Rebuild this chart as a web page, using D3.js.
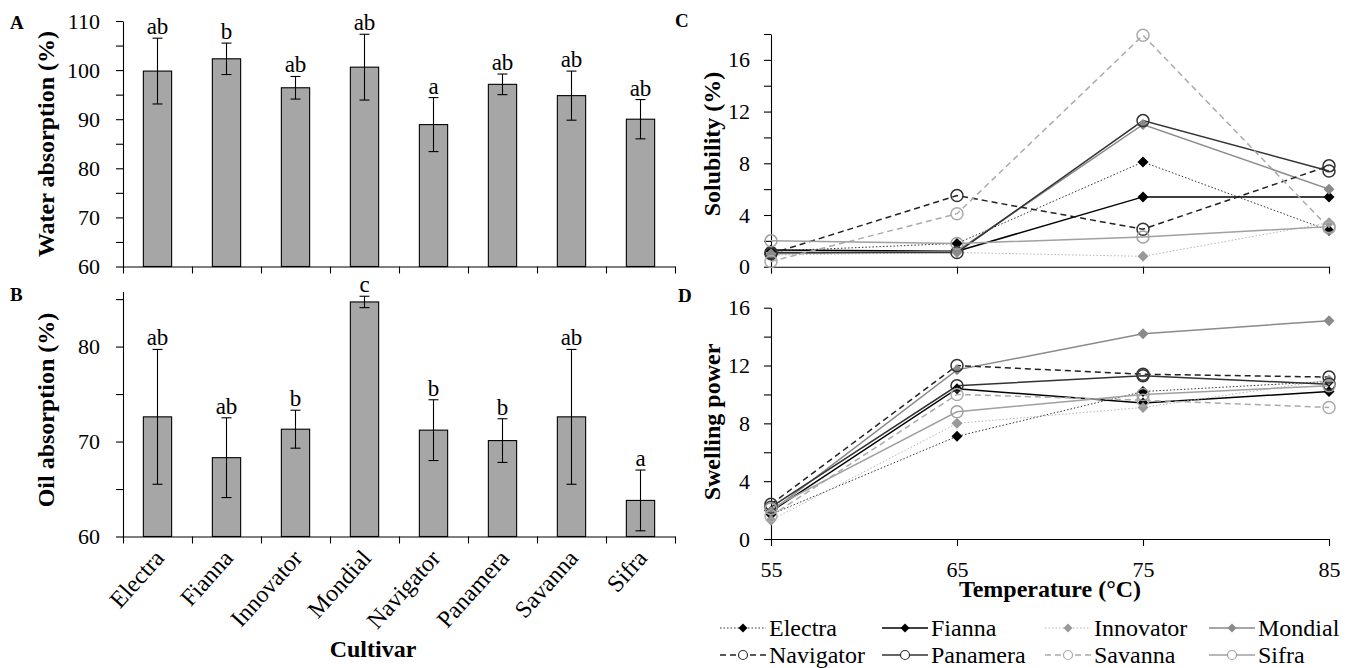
<!DOCTYPE html>
<html>
<head>
<meta charset="utf-8">
<script src="https://cdn.jsdelivr.net/npm/d3@7"></script>
<style>
  body { margin: 0; background: #fff; }
  svg { display: block; font-family: "Times New Roman", "Liberation Serif", serif; }
</style>
</head>
<body>
<div id="chart"></div>
<script>
// data
var cultivars = ["Electra", "Fianna", "Innovator", "Mondial", "Navigator", "Panamera", "Savanna", "Sifra"];

var waterAbs = [99.8, 102.3, 96.4, 100.6, 88.9, 97.1, 94.8, 90.0];
var waterErr = [6.7, 3.2, 2.3, 6.7, 5.5, 2.1, 5.0, 4.0];
var waterLetters = ["ab", "b", "ab", "ab", "a", "ab", "ab", "ab"];

var oilAbs = [72.6, 68.3, 71.3, 84.7, 71.2, 70.1, 72.6, 63.8];
var oilErr = [7.1, 4.2, 2.0, 0.6, 3.2, 2.3, 7.1, 3.2];
var oilLetters = ["ab", "ab", "b", "c", "b", "b", "ab", "a"];

var temps = [55, 65, 75, 85];

// one row per cultivar, same order as cultivars
var solubility = [
  [1.2, 1.8, 8.1, 2.8],
  [1.3, 1.2, 5.4, 5.4],
  [0.9, 1.1, 0.8, 3.4],
  [1.0, 1.2, 11.0, 6.0],
  [1.0, 5.5, 2.9, 7.8],
  [1.1, 1.1, 11.3, 7.4],
  [0.4, 4.1, 17.9, 3.0],
  [2.0, 1.8, 2.3, 3.1]
];

var swelling = [
  [1.7, 7.1, 10.2, 10.9],
  [1.9, 10.4, 9.4, 10.2],
  [1.3, 8.0, 9.1, 11.0],
  [1.9, 11.7, 14.2, 15.1],
  [2.4, 12.0, 11.4, 11.2],
  [2.2, 10.6, 11.3, 10.7],
  [1.6, 10.0, 9.6, 9.1],
  [2.1, 8.8, 10.0, 10.6]
];

// line look for each cultivar
var styles = [
  { stroke: "#333", width: 1, dash: "1.5,2", marker: "diamond", fill: "#000" },
  { stroke: "#000", width: 1.5, dash: null, marker: "diamond", fill: "#000" },
  { stroke: "#b5b5b5", width: 1, dash: "1.5,2", marker: "diamond", fill: "#999" },
  { stroke: "#8a8a8a", width: 1.5, dash: null, marker: "diamond", fill: "#8a8a8a" },
  { stroke: "#222", width: 1.5, dash: "6,4", marker: "circle", fill: "#333" },
  { stroke: "#333", width: 1.5, dash: null, marker: "circle", fill: "#333" },
  { stroke: "#aaa", width: 1.5, dash: "6,4", marker: "circle", fill: "#aaa" },
  { stroke: "#a0a0a0", width: 1.5, dash: null, marker: "circle", fill: "#a0a0a0" }
];

var W = 1359, H = 668;
var svg = d3.select("#chart").append("svg")
  .attr("width", W)
  .attr("height", H);

var barFill = "#a6a6a6";

function styleAxis(g, size) {
  g.attr("font-family", null).attr("font-size", null);
  g.selectAll("path.domain").attr("stroke", "#000").attr("stroke-width", 1.1);
  g.selectAll(".tick line").attr("stroke", "#000").attr("stroke-width", 1.1);
  g.selectAll(".tick text")
    .style("font-family", "'Times New Roman', 'Liberation Serif', serif")
    .style("font-size", size + "px")
    .attr("fill", "#000");
}

function diamond(s) {
  return "M0," + (-s) + "L" + s + ",0L0," + s + "L" + (-s) + ",0Z";
}

// ---------------- bar panels (A, B) ----------------
function barPanel(opt) {
  var x = d3.scaleBand().domain(cultivars).range([123, 675]);
  var xEdge = d3.scaleLinear().domain([0, cultivars.length]).range([123, 675]);
  var y = d3.scaleLinear().domain(opt.domain).range([opt.bottom, opt.top]);
  var bw = x.bandwidth() * 0.41;

  // y axis
  var gy = svg.append("g")
    .attr("transform", "translate(123,0)")
    .call(d3.axisLeft(y)
      .tickValues(opt.ticks)
      .tickSize(7).tickSizeOuter(0).tickPadding(16)
      .tickFormat(function(d) { return d % 10 === 0 ? d : ""; }));
  styleAxis(gy, 22);

  // bars
  svg.append("g").selectAll("rect")
    .data(opt.values)
    .enter().append("rect")
    .attr("x", function(d, i) { return x(cultivars[i]) + (x.bandwidth() - bw) / 2; })
    .attr("y", function(d) { return y(d); })
    .attr("width", bw)
    .attr("height", function(d) { return opt.bottom - y(d); })
    .attr("fill", barFill)
    .attr("stroke", "#000")
    .attr("stroke-width", 1.1);

  // error bars
  var eb = svg.append("g").selectAll("g")
    .data(opt.values)
    .enter().append("g")
    .attr("stroke", "#000")
    .attr("stroke-width", 1.1);
  eb.append("line")
    .attr("x1", function(d, i) { return x(cultivars[i]) + x.bandwidth() / 2; })
    .attr("x2", function(d, i) { return x(cultivars[i]) + x.bandwidth() / 2; })
    .attr("y1", function(d, i) { return y(d + opt.err[i]); })
    .attr("y2", function(d, i) { return y(d - opt.err[i]); });
  [1, -1].forEach(function(sign) {
    eb.append("line")
      .attr("x1", function(d, i) { return x(cultivars[i]) + x.bandwidth() / 2 - 5; })
      .attr("x2", function(d, i) { return x(cultivars[i]) + x.bandwidth() / 2 + 5; })
      .attr("y1", function(d, i) { return y(d + sign * opt.err[i]); })
      .attr("y2", function(d, i) { return y(d + sign * opt.err[i]); });
  });

  // letters
  svg.append("g").selectAll("text")
    .data(opt.values)
    .enter().append("text")
    .attr("x", function(d, i) { return x(cultivars[i]) + x.bandwidth() / 2; })
    .attr("y", function(d, i) { return y(d + opt.err[i]) - 4; })
    .attr("text-anchor", "middle")
    .style("font-size", "23px")
    .text(function(d, i) { return opt.letters[i]; });

  // x axis with ticks on category edges
  var gx = svg.append("g")
    .attr("transform", "translate(0," + opt.bottom + ")")
    .call(d3.axisBottom(xEdge)
      .tickValues(d3.range(0, cultivars.length + 1))
      .tickSize(7).tickSizeOuter(0)
      .tickFormat(""));
  styleAxis(gx, 22);

  // y title
  svg.append("text")
    .attr("transform", "translate(54," + opt.titleY + ") rotate(-90)")
    .attr("text-anchor", "middle")
    .style("font-size", "24px")
    .style("font-weight", "bold")
    .text(opt.title);

  // panel letter
  svg.append("text")
    .attr("x", 10).attr("y", opt.letterY)
    .style("font-size", "19px").style("font-weight", "bold")
    .text(opt.letter);

  return x;
}

barPanel({
  domain: [60, 110], top: 21, bottom: 266.5,
  ticks: d3.range(60, 111, 5),
  values: waterAbs, err: waterErr, letters: waterLetters,
  title: "Water absorption (%)", titleY: 144, letter: "A", letterY: 29
});

var xB = barPanel({
  domain: [60, 85.8], top: 291.5, bottom: 536.5,
  ticks: d3.range(60, 86, 5),
  values: oilAbs, err: oilErr, letters: oilLetters,
  title: "Oil absorption (%)", titleY: 410, letter: "B", letterY: 301
});

// rotated cultivar names
svg.append("g").selectAll("text")
  .data(cultivars)
  .enter().append("text")
  .attr("transform", function(d) {
    return "translate(" + (xB(d) + xB.bandwidth() / 2 + 8) + ",559) rotate(-48)";
  })
  .attr("text-anchor", "end")
  .style("font-size", "24px")
  .text(function(d) { return d; });

svg.append("text")
  .attr("x", 373).attr("y", 657)
  .attr("text-anchor", "middle")
  .style("font-size", "24px").style("font-weight", "bold")
  .text("Cultivar");

// ---------------- line panels (C, D) ----------------
var xT = d3.scaleLinear().domain([55, 85]).range([771, 1329]);

function linePanel(opt) {
  var y = d3.scaleLinear().domain(opt.domain).range([opt.bottom, opt.top]);

  var gy = svg.append("g")
    .attr("transform", "translate(771,0)")
    .call(d3.axisLeft(y)
      .tickValues(d3.range(opt.domain[0], opt.domain[1] + 1, 2))
      .tickSize(7).tickSizeOuter(0).tickPadding(14)
      .tickFormat(function(d) { return d % 4 === 0 ? d : ""; }));
  styleAxis(gy, 22);

  var gx = svg.append("g")
    .attr("transform", "translate(0," + opt.bottom + ")")
    .call(d3.axisBottom(xT)
      .tickValues(temps)
      .tickSize(7).tickSizeOuter(0).tickPadding(15)
      .tickFormat(opt.xLabels ? d3.format("d") : ""));
  styleAxis(gx, 22);

  var line = d3.line()
    .x(function(d, i) { return xT(temps[i]); })
    .y(function(d) { return y(d); });

  opt.series.forEach(function(vals, k) {
    var st = styles[k];
    svg.append("path")
      .datum(vals)
      .attr("d", line)
      .attr("fill", "none")
      .attr("stroke", st.stroke)
      .attr("stroke-width", st.width)
      .attr("stroke-dasharray", st.dash);
  });

  opt.series.forEach(function(vals, k) {
    var st = styles[k];
    var g = svg.append("g");
    if (st.marker === "diamond") {
      g.selectAll("path").data(vals).enter().append("path")
        .attr("d", diamond(5.5))
        .attr("transform", function(d, i) { return "translate(" + xT(temps[i]) + "," + y(d) + ")"; })
        .attr("fill", st.fill);
    } else {
      g.selectAll("circle").data(vals).enter().append("circle")
        .attr("cx", function(d, i) { return xT(temps[i]); })
        .attr("cy", function(d) { return y(d); })
        .attr("r", 6)
        .attr("fill", "none")
        .attr("stroke", st.fill)
        .attr("stroke-width", 1.5);
    }
  });

  svg.append("text")
    .attr("transform", "translate(720," + opt.titleY + ") rotate(-90)")
    .attr("text-anchor", "middle")
    .style("font-size", "24px").style("font-weight", "bold")
    .text(opt.title);

  svg.append("text")
    .attr("x", opt.letterX).attr("y", opt.letterY)
    .style("font-size", "19px").style("font-weight", "bold")
    .text(opt.letter);
}

linePanel({
  domain: [0, 18], top: 34, bottom: 266.7, series: solubility, xLabels: false,
  title: "Solubility (%)", titleY: 144, letter: "C", letterX: 675, letterY: 27
});

linePanel({
  domain: [0, 16], top: 307.7, bottom: 539, series: swelling, xLabels: true,
  title: "Swelling power", titleY: 422, letter: "D", letterX: 678, letterY: 302
});

svg.append("text")
  .attr("x", 1050).attr("y", 597)
  .attr("text-anchor", "middle")
  .style("font-size", "24px").style("font-weight", "bold")
  .text("Temperature (\u00B0C)");

// ---------------- legend ----------------
var legCols = [720, 882, 1045, 1209];
var legRows = [628, 655];
var leg = svg.append("g").selectAll("g")
  .data(cultivars)
  .enter().append("g")
  .attr("transform", function(d, i) {
    return "translate(" + legCols[i % 4] + "," + legRows[Math.floor(i / 4)] + ")";
  });

leg.append("line")
  .attr("x1", 0).attr("x2", 46).attr("y1", 0).attr("y2", 0)
  .attr("stroke", function(d, i) { return styles[i].stroke; })
  .attr("stroke-width", function(d, i) { return styles[i].width; })
  .attr("stroke-dasharray", function(d, i) { return styles[i].dash; });

leg.each(function(d, i) {
  var st = styles[i];
  var g = d3.select(this);
  if (st.marker === "diamond") {
    g.append("path").attr("d", diamond(4.5))
      .attr("transform", "translate(23,0)")
      .attr("fill", st.fill);
  } else {
    g.append("circle").attr("cx", 23).attr("cy", 0).attr("r", 4.5)
      .attr("fill", "#fff").attr("stroke", st.fill).attr("stroke-width", 1.2);
  }
});

leg.append("text")
  .attr("x", 49).attr("y", 7.5)
  .style("font-size", "24px")
  .text(function(d) { return d; });
</script>
</body>
</html>
